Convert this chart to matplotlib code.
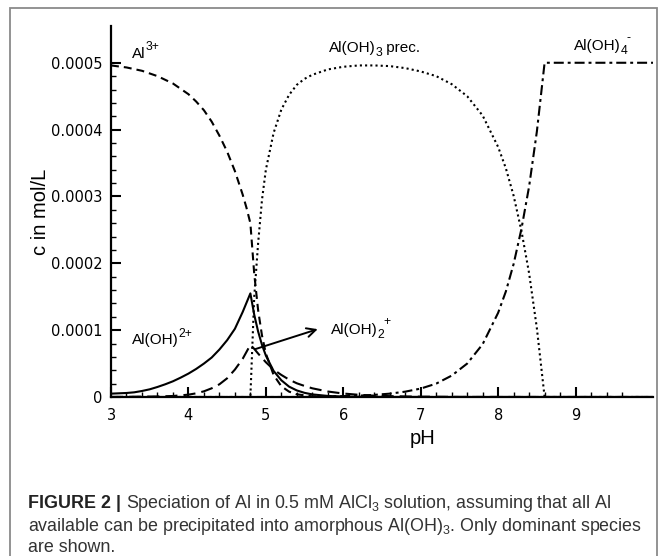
import numpy as np
import matplotlib
matplotlib.use("Agg")
import matplotlib.pyplot as plt
from matplotlib.patches import Rectangle

plt.rcParams['font.family'] = ['Liberation Sans', 'DejaVu Sans']
plt.rcParams['mathtext.fontset'] = 'custom'
plt.rcParams['mathtext.rm'] = 'Liberation Sans'
plt.rcParams['mathtext.it'] = 'Liberation Sans:italic'
plt.rcParams['mathtext.bf'] = 'Liberation Sans:bold'
plt.rcParams['mathtext.sf'] = 'Liberation Sans'

UNIT = 1e-4  # values below are in 1e-4 mol/L

# Al3+
ph_al3 = [3.0, 3.2, 3.4, 3.6, 3.8, 4.0, 4.1, 4.2, 4.3, 4.4, 4.5, 4.6, 4.7, 4.75, 4.8,
          4.85, 4.9, 4.95, 5.0, 5.1, 5.2, 5.3, 5.4, 5.6, 6.0, 10.0]
c_al3 = [4.96, 4.93, 4.88, 4.80, 4.69, 4.53, 4.42, 4.29, 4.12, 3.91, 3.67, 3.38, 3.03, 2.83, 2.60,
         1.84, 1.30, 0.92, 0.65, 0.33, 0.16, 0.08, 0.04, 0.01, 0.0, 0.0]

# Al(OH)2+
ph_aloh = [3.0, 3.1, 3.2, 3.3, 3.4, 3.5, 3.6, 3.7, 3.8, 3.9, 4.0, 4.1, 4.2, 4.3, 4.4, 4.5, 4.6,
           4.7, 4.8, 4.85, 4.9, 4.95, 5.0, 5.1, 5.2, 5.3, 5.4, 5.5, 5.6, 5.8, 6.0, 6.5, 7.0, 10.0]
c_aloh = [0.05, 0.055, 0.06, 0.07, 0.09, 0.115, 0.15, 0.19, 0.235, 0.29, 0.35, 0.42, 0.50, 0.59,
          0.71, 0.85, 1.02, 1.27, 1.55, 1.23, 0.98, 0.78, 0.62, 0.39, 0.25, 0.155, 0.098, 0.062,
          0.039, 0.016, 0.006, 0.0006, 0.0, 0.0]

# Al(OH)2 +
ph_aloh2 = [3.0, 3.4, 3.6, 3.8, 4.0, 4.1, 4.2, 4.3, 4.4, 4.5, 4.6, 4.7, 4.8,
            4.85, 4.9, 5.0, 5.1, 5.2, 5.3, 5.4, 5.5, 5.6, 5.8, 6.0, 6.2, 6.4, 6.6, 6.8, 7.0, 7.5, 8.0, 10.0]
c_aloh2 = [0.0, 0.005, 0.008, 0.015, 0.035, 0.055, 0.085, 0.13, 0.19, 0.28, 0.41, 0.57, 0.78,
           0.72, 0.65, 0.52, 0.41, 0.33, 0.26, 0.205, 0.165, 0.13, 0.082, 0.052, 0.033, 0.02, 0.013,
           0.008, 0.005, 0.0016, 0.0005, 0.0]

# Al(OH)3 precipitate
ph_prec = [3.0, 4.8, 4.85, 4.9, 4.95, 5.0, 5.1, 5.2, 5.3, 5.4, 5.5, 5.6, 5.8, 6.0, 6.2, 6.4, 6.6,
           6.8, 7.0, 7.2, 7.4, 7.6, 7.8, 8.0, 8.1, 8.2, 8.3, 8.4, 8.5, 8.6, 10.0]
c_prec = [0.0, 0.0, 1.5, 2.3, 2.95, 3.4, 3.95, 4.3, 4.52, 4.67, 4.76, 4.82, 4.90, 4.94, 4.96, 4.96,
          4.95, 4.92, 4.87, 4.80, 4.68, 4.50, 4.21, 3.74, 3.42, 3.01, 2.49, 1.85, 1.03, 0.0, 0.0]

# Al(OH)4-
ph_aloh4 = [3.0, 5.5, 6.0, 6.2, 6.4, 6.6, 6.8, 7.0, 7.2, 7.4, 7.6, 7.8, 8.0, 8.1, 8.2, 8.3, 8.4,
            8.5, 8.6, 10.0]
c_aloh4 = [0.0, 0.0, 0.013, 0.02, 0.032, 0.05, 0.08, 0.126, 0.2, 0.32, 0.5, 0.79, 1.26, 1.58,
           1.99, 2.51, 3.15, 3.97, 5.0, 5.0]

x_major = [3, 4, 5, 6, 7, 8, 9]
x_minor = [v / 10 for v in range(32, 97, 2) if v % 10 != 0]
y_major = [0, 1, 2, 3, 4, 5]
y_labels = ['0', '0.0001', '0.0002', '0.0003', '0.0004', '0.0005']
y_minor = [v / 10 for v in range(2, 49, 2) if v % 10 != 0]

W, H = 665, 556
fig = plt.figure(figsize=(W / 100, H / 100), dpi=100)
ax = fig.add_axes([111 / W, 1 - 397 / H, 542 / W, 371 / H])

lw = 1.5
ax.plot(ph_al3, np.array(c_al3) * UNIT, color='black', lw=lw, dashes=(3.8, 2.4))
ax.plot(ph_aloh, np.array(c_aloh) * UNIT, color='black', lw=lw)
ax.plot(ph_aloh2, np.array(c_aloh2) * UNIT, color='black', lw=lw, dashes=(5.8, 2.9))
ax.plot(ph_prec, np.array(c_prec) * UNIT, color='black', lw=lw, dashes=(1.0, 1.5))
ax.plot(ph_aloh4, np.array(c_aloh4) * UNIT, color='black', lw=lw, dashes=(4.8, 1.9, 1.4, 1.9))

ax.set_xlim(3, 10)
ax.set_ylim(0, 5.55 * UNIT)
ax.set_xticks(x_major)
ax.set_xticks(x_minor, minor=True)
ax.set_yticks(np.array(y_major) * UNIT)
ax.set_yticklabels(y_labels)
ax.set_yticks(np.array(y_minor) * UNIT, minor=True)

for s in ['top', 'right']:
    ax.spines[s].set_visible(False)
for s in ['left', 'bottom']:
    ax.spines[s].set_linewidth(1.6)

ax.tick_params(which='major', direction='in', length=7, width=1.5, labelsize=10.5, pad=6)
ax.tick_params(which='minor', direction='in', length=3.5, width=1.0)
ax.tick_params(axis='x', which='major', pad=8)
for lab in ax.get_xticklabels() + ax.get_yticklabels():
    lab.set_family('DejaVu Sans')

ax.set_xlabel('pH', fontsize=14.5, va='center')
ax.xaxis.set_label_coords((423 - 111) / 542, (397 - 438) / 371)
ax.set_ylabel('c in mol/L', fontsize=14.5, va='center')
ax.yaxis.set_label_coords((40 - 111) / 542, 0.5)

renderer = fig.canvas.get_renderer()
PT = 72 / 100  # points per pixel


def chem_label(x, y, parts, fs=11):
    """parts: list of (text, kind) with kind 'n', 'sub', 'sup', 'subsup' (text=(sub, sup))."""
    off = 0.0
    for txt, kind in parts:
        if kind == 'n':
            t = ax.annotate(txt, (x, y), xytext=(off, 0), textcoords='offset points',
                            fontsize=fs, va='baseline')
            off += t.get_window_extent(renderer).width * PT
        elif kind == 'sup':
            t = ax.annotate(txt, (x, y), xytext=(off, 0.5 * fs), textcoords='offset points',
                            fontsize=0.8 * fs, va='baseline')
            off += t.get_window_extent(renderer).width * PT
        elif kind == 'sub':
            t = ax.annotate(txt, (x, y), xytext=(off, -0.28 * fs), textcoords='offset points',
                            fontsize=0.8 * fs, va='baseline')
            off += t.get_window_extent(renderer).width * PT
        elif kind == 'subsup':
            sb, sp = txt
            t1 = ax.annotate(sb, (x, y), xytext=(off, -0.28 * fs), textcoords='offset points',
                             fontsize=0.8 * fs, va='baseline')
            w1 = t1.get_window_extent(renderer).width * PT
            ax.annotate(sp, (x, y), xytext=(off + w1 * 0.8, 0.6 * fs),
                        textcoords='offset points', fontsize=0.8 * fs, va='baseline')


chem_label(3.27, 5.07 * UNIT, [('Al', 'n'), ('3+', 'sup')])
chem_label(5.81, 5.16 * UNIT, [('Al(OH)', 'n'), ('3', 'sub'), (' prec.', 'n')])
chem_label(8.98, 5.19 * UNIT, [('Al(OH)', 'n'), (('4', '-'), 'subsup')])
chem_label(3.27, 0.79 * UNIT, [('Al(OH)', 'n'), ('2+', 'sup')])
chem_label(5.84, 0.945 * UNIT, [('Al(OH)', 'n'), (('2', '+'), 'subsup')])
ax.annotate('', xy=(5.67, 1.015 * UNIT), xytext=(4.86, 0.715 * UNIT),
            arrowprops=dict(arrowstyle='->', lw=1.4, color='black', mutation_scale=16,
                            shrinkA=0, shrinkB=0))

# frame
fig.patches.append(Rectangle((10 / W, -0.05), 647 / W, 1 - 8 / H + 0.05,
                             transform=fig.transFigure, fill=False,
                             edgecolor='#8a8a8a', lw=1.3))

# caption
line2 = 'available can be precipitated into amorphous Al(OH)$_3$. Only dominant species'
tmp = fig.text(0, 0, line2, fontsize=12)
w2 = tmp.get_window_extent(renderer).width
tmp.remove()
cfs = 12 * 612 / w2
x0 = 28 / W
t1 = fig.text(x0, 1 - 508 / H, 'FIGURE 2 |', fontsize=cfs, fontweight='bold', va='baseline',
              color='#222222')
wb = t1.get_window_extent(renderer).width
fig.text(x0 + (wb + 0.28 * cfs * 100 / 72) / W, 1 - 508 / H,
         'Speciation of Al in 0.5 mM AlCl$_3$ solution, assuming that all Al',
         fontsize=cfs, va='baseline', color='#333333')
fig.text(x0, 1 - 531 / H, line2, fontsize=cfs, va='baseline', color='#333333')
fig.text(x0, 1 - 552 / H, 'are shown.', fontsize=cfs, va='baseline', color='#333333')

fig.savefig('out.png', dpi=100)
